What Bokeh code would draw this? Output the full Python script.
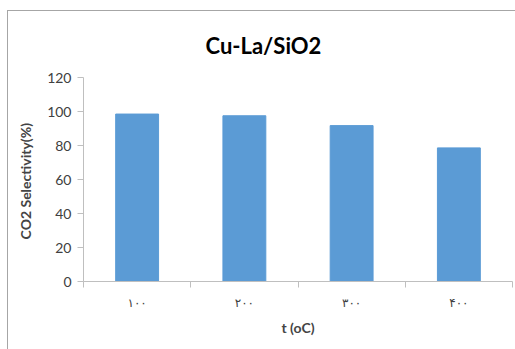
from bokeh.plotting import figure
from bokeh.models import FixedTicker, Range1d
from bokeh.embed import file_html
from bokeh.resources import INLINE
import numpy as np

title = "Cu-La/SiO2"
categories = ["۱۰۰", "۲۰۰", "۳۰۰", "۴۰۰"]
values = [98.5, 97.5, 91.7, 78.6]
y_ticks = [0, 20, 40, 60, 80, 100, 120]
x_label = "t (oC)"
y_label = "CO2  Selectivity(%)"

n = len(categories)
centers = np.arange(n) + 0.5

p = figure(width=508, height=339, output_backend="svg", toolbar_location=None,
           x_range=Range1d(0, n), y_range=Range1d(0, 120),
           min_border_left=75, min_border_right=4, min_border_top=66, min_border_bottom=69)
p.margin = (10, 0, 0, 7)
p.styles = {"border-left": "1px solid #a6a6a6", "border-top": "1px solid #a6a6a6"}

p.vbar(x=centers, top=values, width=0.4, color="#5b9bd5")

p.title.text = title
p.title.align = "left"
p.title.text_font = "Lato"
p.title.text_font_size = "22px"
p.title.text_font_style = "bold"
p.title.text_color = "#000000"
p.title.offset = 122
p.title.standoff = 37

p.xgrid.visible = False
p.ygrid.visible = False
p.outline_line_color = None

xa = p.xaxis[0]
xa.ticker = FixedTicker(ticks=list(centers), minor_ticks=list(range(n + 1)))
xa.major_label_overrides = {float(c): lab for c, lab in zip(centers, categories)}
xa.major_tick_line_color = None
xa.minor_tick_out = 6
xa.minor_tick_in = 0
xa.minor_tick_line_color = "#bfbfbf"
xa.axis_line_color = "#bfbfbf"
xa.major_label_text_font = "DejaVu Sans"
xa.major_label_text_font_size = "12px"
xa.major_label_text_color = "#404040"
xa.major_label_standoff = 8
xa.axis_label = x_label
xa.axis_label_text_font = "Lato"
xa.axis_label_text_font_style = "bold"
xa.axis_label_text_font_size = "14px"
xa.axis_label_standoff = 6

ya = p.yaxis[0]
ya.ticker = FixedTicker(ticks=y_ticks, minor_ticks=[])
ya.major_tick_out = 6
ya.major_tick_in = 0
ya.major_tick_line_color = "#bfbfbf"
ya.axis_line_color = "#bfbfbf"
ya.major_label_text_font = "Lato"
ya.major_label_text_font_size = "14px"
ya.major_label_text_color = "#404040"
ya.major_label_standoff = 6
ya.axis_label = y_label
ya.axis_label_text_font = "Lato"
ya.axis_label_text_font_style = "bold"
ya.axis_label_text_font_size = "14px"
ya.axis_label_standoff = 10

open("out.html", "w").write(file_html(p, INLINE))
